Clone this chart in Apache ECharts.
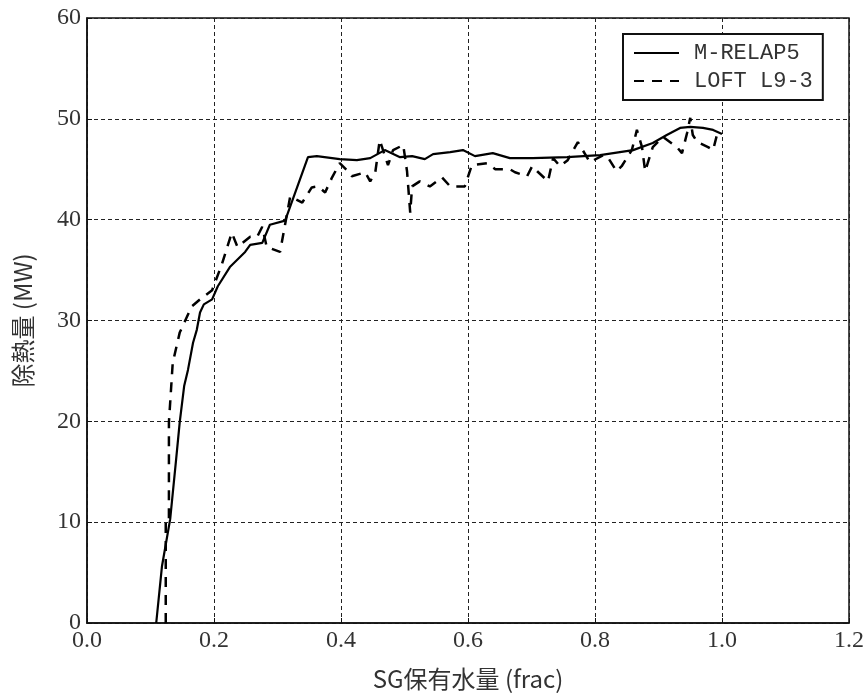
<!DOCTYPE html>
<html>
<head>
<meta charset="utf-8">
<script src="https://cdn.jsdelivr.net/npm/echarts@6/dist/echarts.min.js"></script>
<style>
  html, body { margin: 0; padding: 0; background: #fff; }
  #chart { width: 868px; height: 696px; }
</style>
</head>
<body>
<div id="chart"></div>
<script>
// M-RELAP5 calculation
const relapX = [0.109, 0.118, 0.131, 0.140, 0.146, 0.153, 0.159, 0.167, 0.173, 0.178, 0.184, 0.197, 0.206, 0.225,
  0.249, 0.257, 0.276, 0.288, 0.312, 0.348, 0.362, 0.398, 0.425, 0.446, 0.469, 0.493, 0.512, 0.532, 0.545,
  0.572, 0.592, 0.611, 0.639, 0.666, 0.702, 0.756, 0.808, 0.860, 0.891, 0.913, 0.934, 0.950, 0.970, 0.986, 1.0]
const relapY = [0, 5.6, 10.3, 16.0, 19.9, 23.5, 25.1, 27.8, 29.1, 30.8, 31.6, 32.1, 33.4, 35.3,
  36.8, 37.5, 37.7, 39.5, 39.9, 46.2, 46.3, 46.0, 45.9, 46.1, 46.9, 46.2, 46.3, 46.0, 46.5,
  46.7, 46.9, 46.3, 46.6, 46.1, 46.1, 46.2, 46.4, 46.9, 47.6, 48.4, 49.1, 49.2, 49.1, 48.9, 48.5]

// LOFT L9-3 experiment
const loftX = [0.124, 0.124, 0.129, 0.129, 0.135, 0.146, 0.154, 0.165, 0.178, 0.197, 0.212, 0.228, 0.237,
  0.257, 0.268, 0.276, 0.283, 0.304, 0.309, 0.320, 0.339, 0.354, 0.364, 0.375, 0.386, 0.398, 0.411, 0.417,
  0.438, 0.446, 0.454, 0.461, 0.474, 0.482, 0.498, 0.504, 0.509, 0.512, 0.524, 0.540, 0.559, 0.572, 0.595,
  0.606, 0.630, 0.643, 0.666, 0.674, 0.693, 0.701, 0.709, 0.726, 0.734, 0.745, 0.757, 0.773, 0.792, 0.813,
  0.820, 0.834, 0.842, 0.858, 0.866, 0.874, 0.879, 0.883, 0.891, 0.907, 0.929, 0.937, 0.945, 0.950, 0.954,
  0.961, 0.978, 0.986, 0.994]
const loftY = [0, 10.3, 10.3, 19.9, 25.8, 28.8, 29.9, 31.4, 32.1, 33.0, 35.5, 38.7, 37.3,
  38.3, 38.3, 39.3, 37.3, 36.8, 38.5, 42.3, 41.7, 43.2, 43.3, 42.7, 44.2, 45.6, 44.8, 44.3,
  44.7, 43.8, 44.7, 47.9, 45.4, 46.9, 47.4, 44.8, 40.7, 43.3, 43.8, 43.3, 44.2, 43.3, 43.3,
  45.4, 45.6, 45.0, 45.0, 44.7, 44.3, 45.3, 44.8, 43.8, 46.1, 45.3, 45.9, 47.7, 45.7, 46.4,
  46.2, 44.8, 45.3, 46.9, 48.9, 47.2, 44.8, 45.6, 47.2, 48.2, 47.2, 46.6, 48.6, 50.1, 48.4,
  47.7, 47.2, 46.9, 48.9]

const xTicks = [0.0, 0.2, 0.4, 0.6, 0.8, 1.0, 1.2]
const yTicks = [0, 10, 20, 30, 40, 50, 60]

const relapData = relapX.map((x, i) => [x, relapY[i]])
const loftData = loftX.map((x, i) => [x, loftY[i]])

const gridLine = { show: true, lineStyle: { color: '#222', type: [4, 3], width: 1 } }
const labelFont = { color: '#333', fontFamily: 'Liberation Serif', fontSize: 24 }

const chart = echarts.init(document.getElementById('chart'))
chart.setOption({
  animation: false,
  backgroundColor: '#fff',
  grid: {
    left: 87, right: 19, top: 18, bottom: 72,
    show: true, borderColor: '#111', borderWidth: 1.5
  },
  legend: {
    left: 623, top: 34,
    orient: 'vertical',
    padding: [8, 10, 8, 10],
    itemGap: 6,
    itemWidth: 45,
    itemHeight: 14,
    borderColor: '#111',
    borderWidth: 2,
    backgroundColor: '#fff',
    itemStyle: { opacity: 0 },
    textStyle: { color: '#333', fontFamily: 'Liberation Mono', fontSize: 22, padding: [0, 0, 0, 10] },
    data: ['M-RELAP5', 'LOFT L9-3']
  },
  xAxis: {
    type: 'value',
    min: xTicks[0], max: xTicks[xTicks.length - 1], interval: 0.2,
    name: 'SG保有水量 (frac)',
    nameLocation: 'middle',
    nameGap: 44,
    nameTextStyle: { color: '#333', fontFamily: 'Noto Sans CJK JP', fontSize: 24 },
    axisLine: { lineStyle: { color: '#111', width: 1.5 } },
    axisTick: { inside: true, length: 5, lineStyle: { color: '#111' } },
    axisLabel: Object.assign({ margin: 6, formatter: v => v.toFixed(1) }, labelFont),
    splitLine: gridLine
  },
  yAxis: {
    type: 'value',
    min: yTicks[0], max: yTicks[yTicks.length - 1], interval: 10,
    name: '除熱量 (MW)',
    nameLocation: 'middle',
    nameGap: 52,
    nameTextStyle: { color: '#333', fontFamily: 'Noto Sans CJK JP', fontSize: 24 },
    axisLine: { show: true, lineStyle: { color: '#111', width: 1.5 } },
    axisTick: { show: true, inside: true, length: 5, lineStyle: { color: '#111' } },
    axisLabel: Object.assign({ margin: 6 }, labelFont),
    splitLine: gridLine
  },
  series: [{
    name: 'M-RELAP5',
    type: 'line',
    data: relapData,
    symbol: 'none',
    lineStyle: { color: '#000', width: 2.2 },
    itemStyle: { color: '#000' }
  }, {
    name: 'LOFT L9-3',
    type: 'line',
    data: loftData,
    symbol: 'none',
    lineStyle: { color: '#000', width: 2.5, type: [10, 8] },
    itemStyle: { color: '#000' }
  }]
})
</script>
</body>
</html>
